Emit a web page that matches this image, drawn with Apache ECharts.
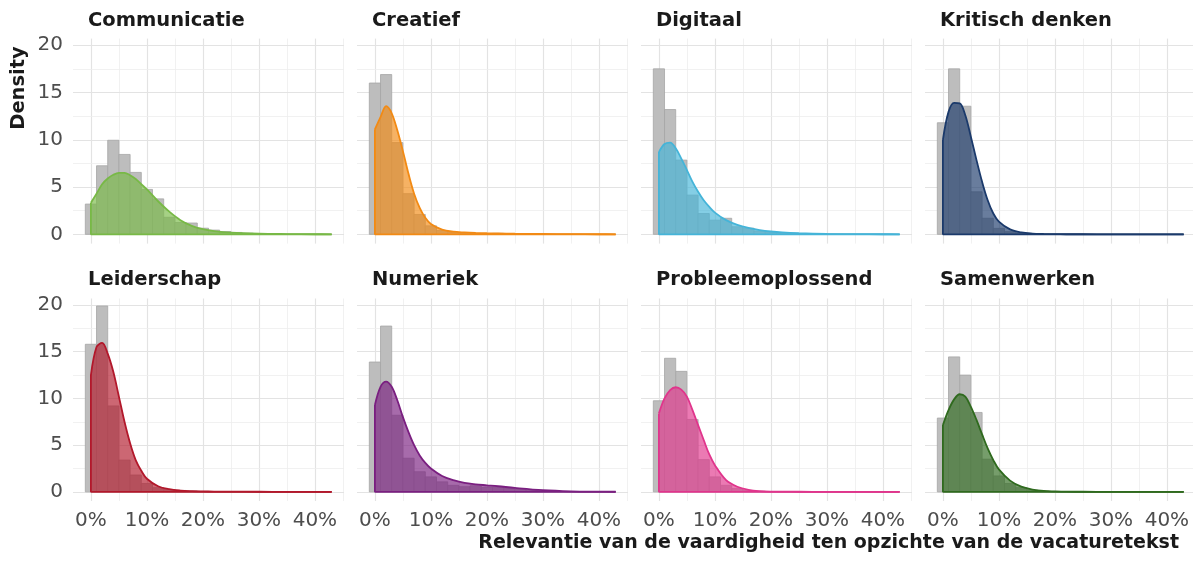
<!DOCTYPE html>
<html>
<head>
<meta charset="utf-8">
<script src="https://cdn.jsdelivr.net/npm/echarts@6/dist/echarts.min.js"></script>
<style>
  html, body { margin: 0; padding: 0; background: #ffffff; }
  #chart { width: 1193px; height: 561px; }
</style>
</head>
<body>
<div id="chart"></div>
<script>
// Skills shown in the facets, in reading order
const skills = ['Communicatie', 'Creatief', 'Digitaal', 'Kritisch denken',
                'Leiderschap', 'Numeriek', 'Probleemoplossend', 'Samenwerken'];
const skillColors = ['#78b946', '#f28a14', '#45b4d8', '#1b3a6b',
                     '#b2182b', '#7a1f80', '#e0358c', '#2f6a1e'];

// Histogram bins (centre, in %), bin width 2 %
const binWidth = 2;
const binCenters = [0, 2, 4, 6, 8, 10, 12, 14, 16, 18, 20, 22, 24, 26, 28, 30, 32, 34, 36, 38, 40, 42];

// Histogram densities per skill
const histCommunicatie      = [3.2, 7.25, 9.95, 8.45, 6.55, 4.75, 3.75, 1.8, 1.25, 1.2, 0.65, 0.45, 0.3, 0.2, 0.12, 0.08, 0.05, 0.03, 0.02, 0.01, 0.01, 0.01];
const histCreatief          = [16.0, 16.9, 9.7, 4.3, 2.1, 0.9, 0.4, 0.2, 0.12, 0.1, 0.08, 0.1, 0.05, 0.03, 0.02, 0.02, 0.01, 0.01, 0.01, 0, 0, 0.01];
const histDigitaal          = [17.5, 13.2, 7.85, 4.15, 2.2, 1.5, 1.7, 0.8, 0.65, 0.35, 0.25, 0.15, 0.1, 0.08, 0.05, 0.04, 0.03, 0.02, 0.01, 0.01, 0.01, 0];
const histKritischDenken    = [11.8, 17.5, 13.55, 4.5, 1.7, 0.63, 0.28, 0.12, 0.06, 0.04, 0.02, 0.01, 0.01, 0, 0, 0, 0, 0, 0, 0, 0, 0];
const histLeiderschap       = [15.8, 19.9, 9.2, 3.4, 1.8, 0.9, 0.45, 0.25, 0.15, 0.1, 0.05, 0.03, 0.02, 0.01, 0.01, 0, 0, 0, 0, 0, 0, 0];
const histNumeriek          = [13.9, 17.75, 8.2, 3.6, 2.15, 1.6, 1.07, 0.7, 0.55, 0.65, 0.47, 0.5, 0.36, 0.25, 0.18, 0.1, 0.06, 0.04, 0.03, 0.02, 0.01, 0.01];
const histProbleemoplossend = [9.75, 14.3, 12.9, 7.75, 3.45, 1.6, 0.7, 0.35, 0.15, 0.07, 0.03, 0.01, 0.01, 0, 0, 0, 0, 0, 0, 0, 0, 0];
const histSamenwerken       = [7.9, 14.45, 12.5, 8.5, 3.5, 1.7, 0.9, 0.45, 0.2, 0.1, 0.05, 0.02, 0.01, 0, 0, 0, 0, 0, 0, 0, 0, 0];

// Kernel density estimate, sampled at these positions (%)
const densX = [0, 1, 2, 3, 4, 5, 6, 7, 8, 9, 10, 12, 14, 16, 18, 20, 22, 25, 30, 35, 40, 43];
const densCommunicatie      = [3.35, 4.3, 5.3, 5.9, 6.3, 6.5, 6.5, 6.25, 5.85, 5.3, 4.75, 3.5, 2.4, 1.5, 0.9, 0.55, 0.35, 0.18, 0.07, 0.03, 0.01, 0.005];
const densCreatief          = [11.1, 12.4, 13.55, 12.8, 11.0, 8.8, 6.4, 4.3, 2.8, 1.75, 1.1, 0.5, 0.28, 0.2, 0.15, 0.12, 0.1, 0.07, 0.04, 0.02, 0.01, 0.005];
const densDigitaal          = [8.7, 9.55, 9.7, 9.1, 8.0, 6.8, 5.55, 4.5, 3.6, 2.9, 2.3, 1.5, 1.0, 0.67, 0.45, 0.3, 0.2, 0.12, 0.05, 0.02, 0.01, 0];
const densKritischDenken    = [10.0, 12.95, 13.9, 13.85, 12.6, 10.3, 7.85, 5.55, 3.6, 2.2, 1.35, 0.53, 0.2, 0.08, 0.04, 0.02, 0.01, 0.01, 0, 0, 0, 0];
const densLeiderschap       = [12.5, 15.5, 15.95, 14.8, 12.85, 10.2, 7.5, 5.2, 3.4, 2.25, 1.4, 0.6, 0.28, 0.14, 0.08, 0.05, 0.03, 0.02, 0.01, 0, 0, 0];
const densNumeriek          = [9.3, 11.25, 11.8, 11.25, 9.8, 8.0, 6.4, 5.0, 3.9, 3.1, 2.5, 1.7, 1.25, 0.95, 0.8, 0.7, 0.6, 0.42, 0.18, 0.06, 0.02, 0.01];
const densProbleemoplossend = [8.4, 10.0, 10.9, 11.2, 10.95, 10.2, 8.75, 7.15, 5.55, 4.0, 2.85, 1.25, 0.55, 0.22, 0.08, 0.03, 0.02, 0.01, 0, 0, 0, 0];
const densSamenwerken       = [7.15, 8.75, 9.9, 10.45, 10.2, 9.1, 7.7, 6.15, 4.65, 3.4, 2.4, 1.2, 0.55, 0.25, 0.1, 0.05, 0.02, 0.01, 0, 0, 0, 0];

// Axis ticks
const xTicks = [0, 10, 20, 30, 40];
const yTicks = [0, 5, 10, 15, 20];
const xMinorTicks = [5, 15, 25, 35, 45];
const yMinorTicks = [2.5, 7.5, 12.5, 17.5];

const histBySkill = [histCommunicatie, histCreatief, histDigitaal, histKritischDenken,
                     histLeiderschap, histNumeriek, histProbleemoplossend, histSamenwerken];
const densBySkill = [densCommunicatie, densCreatief, densDigitaal, densKritischDenken,
                     densLeiderschap, densNumeriek, densProbleemoplossend, densSamenwerken];

// Facet layout
const FONT = '"DejaVu Sans", "Liberation Sans", sans-serif';
const colLeft = [73, 357, 641, 925];
const panelWidth = 271;
const rowTop = [38.6, 298.5];
const rowHeight = [205, 202.5];
const xRange = [-3.2, 45.2];
const yRange = [-0.98, 20.7];

const grids = [], xAxes = [], yAxes = [], series = [], titles = [];

skills.forEach(function (name, i) {
  const col = i % 4, row = Math.floor(i / 4);
  const color = skillColors[i];
  const hist = histBySkill[i];
  const dens = densBySkill[i];

  grids.push({
    left: colLeft[col], top: rowTop[row], width: panelWidth, height: rowHeight[row],
    containLabel: false, outerBoundsMode: 'none'
  });

  xAxes.push({
    gridIndex: i, type: 'value', min: xRange[0], max: xRange[1],
    axisLine: { show: false, onZero: false }, axisTick: { show: false },
    splitLine: { show: false },
    axisLabel: {
      show: row === 1, customValues: xTicks, margin: 10,
      formatter: function (v) { return xTicks.indexOf(v) >= 0 ? v + '%' : ''; },
      color: '#4d4d4d', fontSize: 20, fontFamily: FONT
    }
  });

  yAxes.push({
    gridIndex: i, type: 'value', min: yRange[0], max: yRange[1],
    axisLine: { show: false, onZero: false }, axisTick: { show: false },
    splitLine: { show: false },
    axisLabel: {
      show: col === 0, customValues: yTicks, margin: 10,
      formatter: function (v) { return yTicks.indexOf(v) >= 0 ? String(v) : ''; },
      color: '#4d4d4d', fontSize: 20, fontFamily: FONT
    }
  });

  // Panel grid lines (major + minor), kept underneath the marks
  const majorStyle = { color: '#e3e3e3', width: 1.2, type: 'solid' };
  const minorStyle = { color: '#eeeeee', width: 0.8, type: 'solid' };
  const gridLines = []
    .concat(xTicks.map(function (v) { return { xAxis: v, lineStyle: majorStyle }; }))
    .concat(xMinorTicks.map(function (v) { return { xAxis: v, lineStyle: minorStyle }; }))
    .concat(yTicks.map(function (v) { return { yAxis: v, lineStyle: majorStyle }; }))
    .concat(yMinorTicks.map(function (v) { return { yAxis: v, lineStyle: minorStyle }; }));

  series.push({
    type: 'line', xAxisIndex: i, yAxisIndex: i, data: [], z: 1, silent: true,
    markLine: {
      silent: true, z: 1, symbol: ['none', 'none'], label: { show: false },
      animation: false, data: gridLines
    }
  });

  // Histogram bars
  series.push({
    type: 'custom', xAxisIndex: i, yAxisIndex: i, z: 10, silent: true,
    data: binCenters.map(function (c, k) { return [c, hist[k]]; }),
    renderItem: function (params, api) {
      const c = api.value(0), v = api.value(1);
      const p0 = api.coord([c - binWidth / 2, v]);
      const p1 = api.coord([c + binWidth / 2, 0]);
      return {
        type: 'rect',
        shape: { x: p0[0], y: p0[1], width: p1[0] - p0[0], height: p1[1] - p0[1] },
        style: { fill: '#bdbdbd', stroke: '#a6a6a6', lineWidth: 0.8 }
      };
    }
  });

  // Density curve with filled area
  series.push({
    type: 'line', xAxisIndex: i, yAxisIndex: i, z: 12, silent: true,
    smooth: 0.35, showSymbol: false, symbol: 'none',
    data: densX.map(function (x, k) { return [x, dens[k]]; }),
    lineStyle: { color: color, width: 1.8 },
    areaStyle: { color: color, opacity: 0.66 }
  });

  // Left edge and baseline of the density outline
  series.push({
    type: 'line', xAxisIndex: i, yAxisIndex: i, z: 12, silent: true,
    showSymbol: false, symbol: 'none',
    data: [[densX[0], dens[0]], [densX[0], 0], [densX[densX.length - 1], 0]],
    lineStyle: { color: color, width: 1.8 }
  });

  titles.push({
    text: name, left: colLeft[col] + 15, top: row === 0 ? 11 : 270, padding: 0,
    textStyle: { fontFamily: FONT, fontWeight: 'bold', fontSize: 19.5, color: '#1a1a1a' }
  });
});

const chart = echarts.init(document.getElementById('chart'), null, { renderer: 'canvas' });
chart.setOption({
  animation: false,
  backgroundColor: '#ffffff',
  title: titles,
  grid: grids,
  xAxis: xAxes,
  yAxis: yAxes,
  series: series,
  graphic: [
    {
      type: 'text', x: 18.5, y: 88, rotation: Math.PI / 2, silent: true,
      style: { text: 'Density', align: 'center', verticalAlign: 'middle',
               fontFamily: FONT, fontWeight: 'bold', fontSize: 19.5, fill: '#1a1a1a' }
    },
    {
      type: 'text', right: 14, top: 534, silent: true,
      style: { text: 'Relevantie van de vaardigheid ten opzichte van de vacaturetekst',
               fontFamily: FONT, fontWeight: 'bold', fontSize: 19, fill: '#1a1a1a' }
    }
  ]
});
</script>
</body>
</html>
